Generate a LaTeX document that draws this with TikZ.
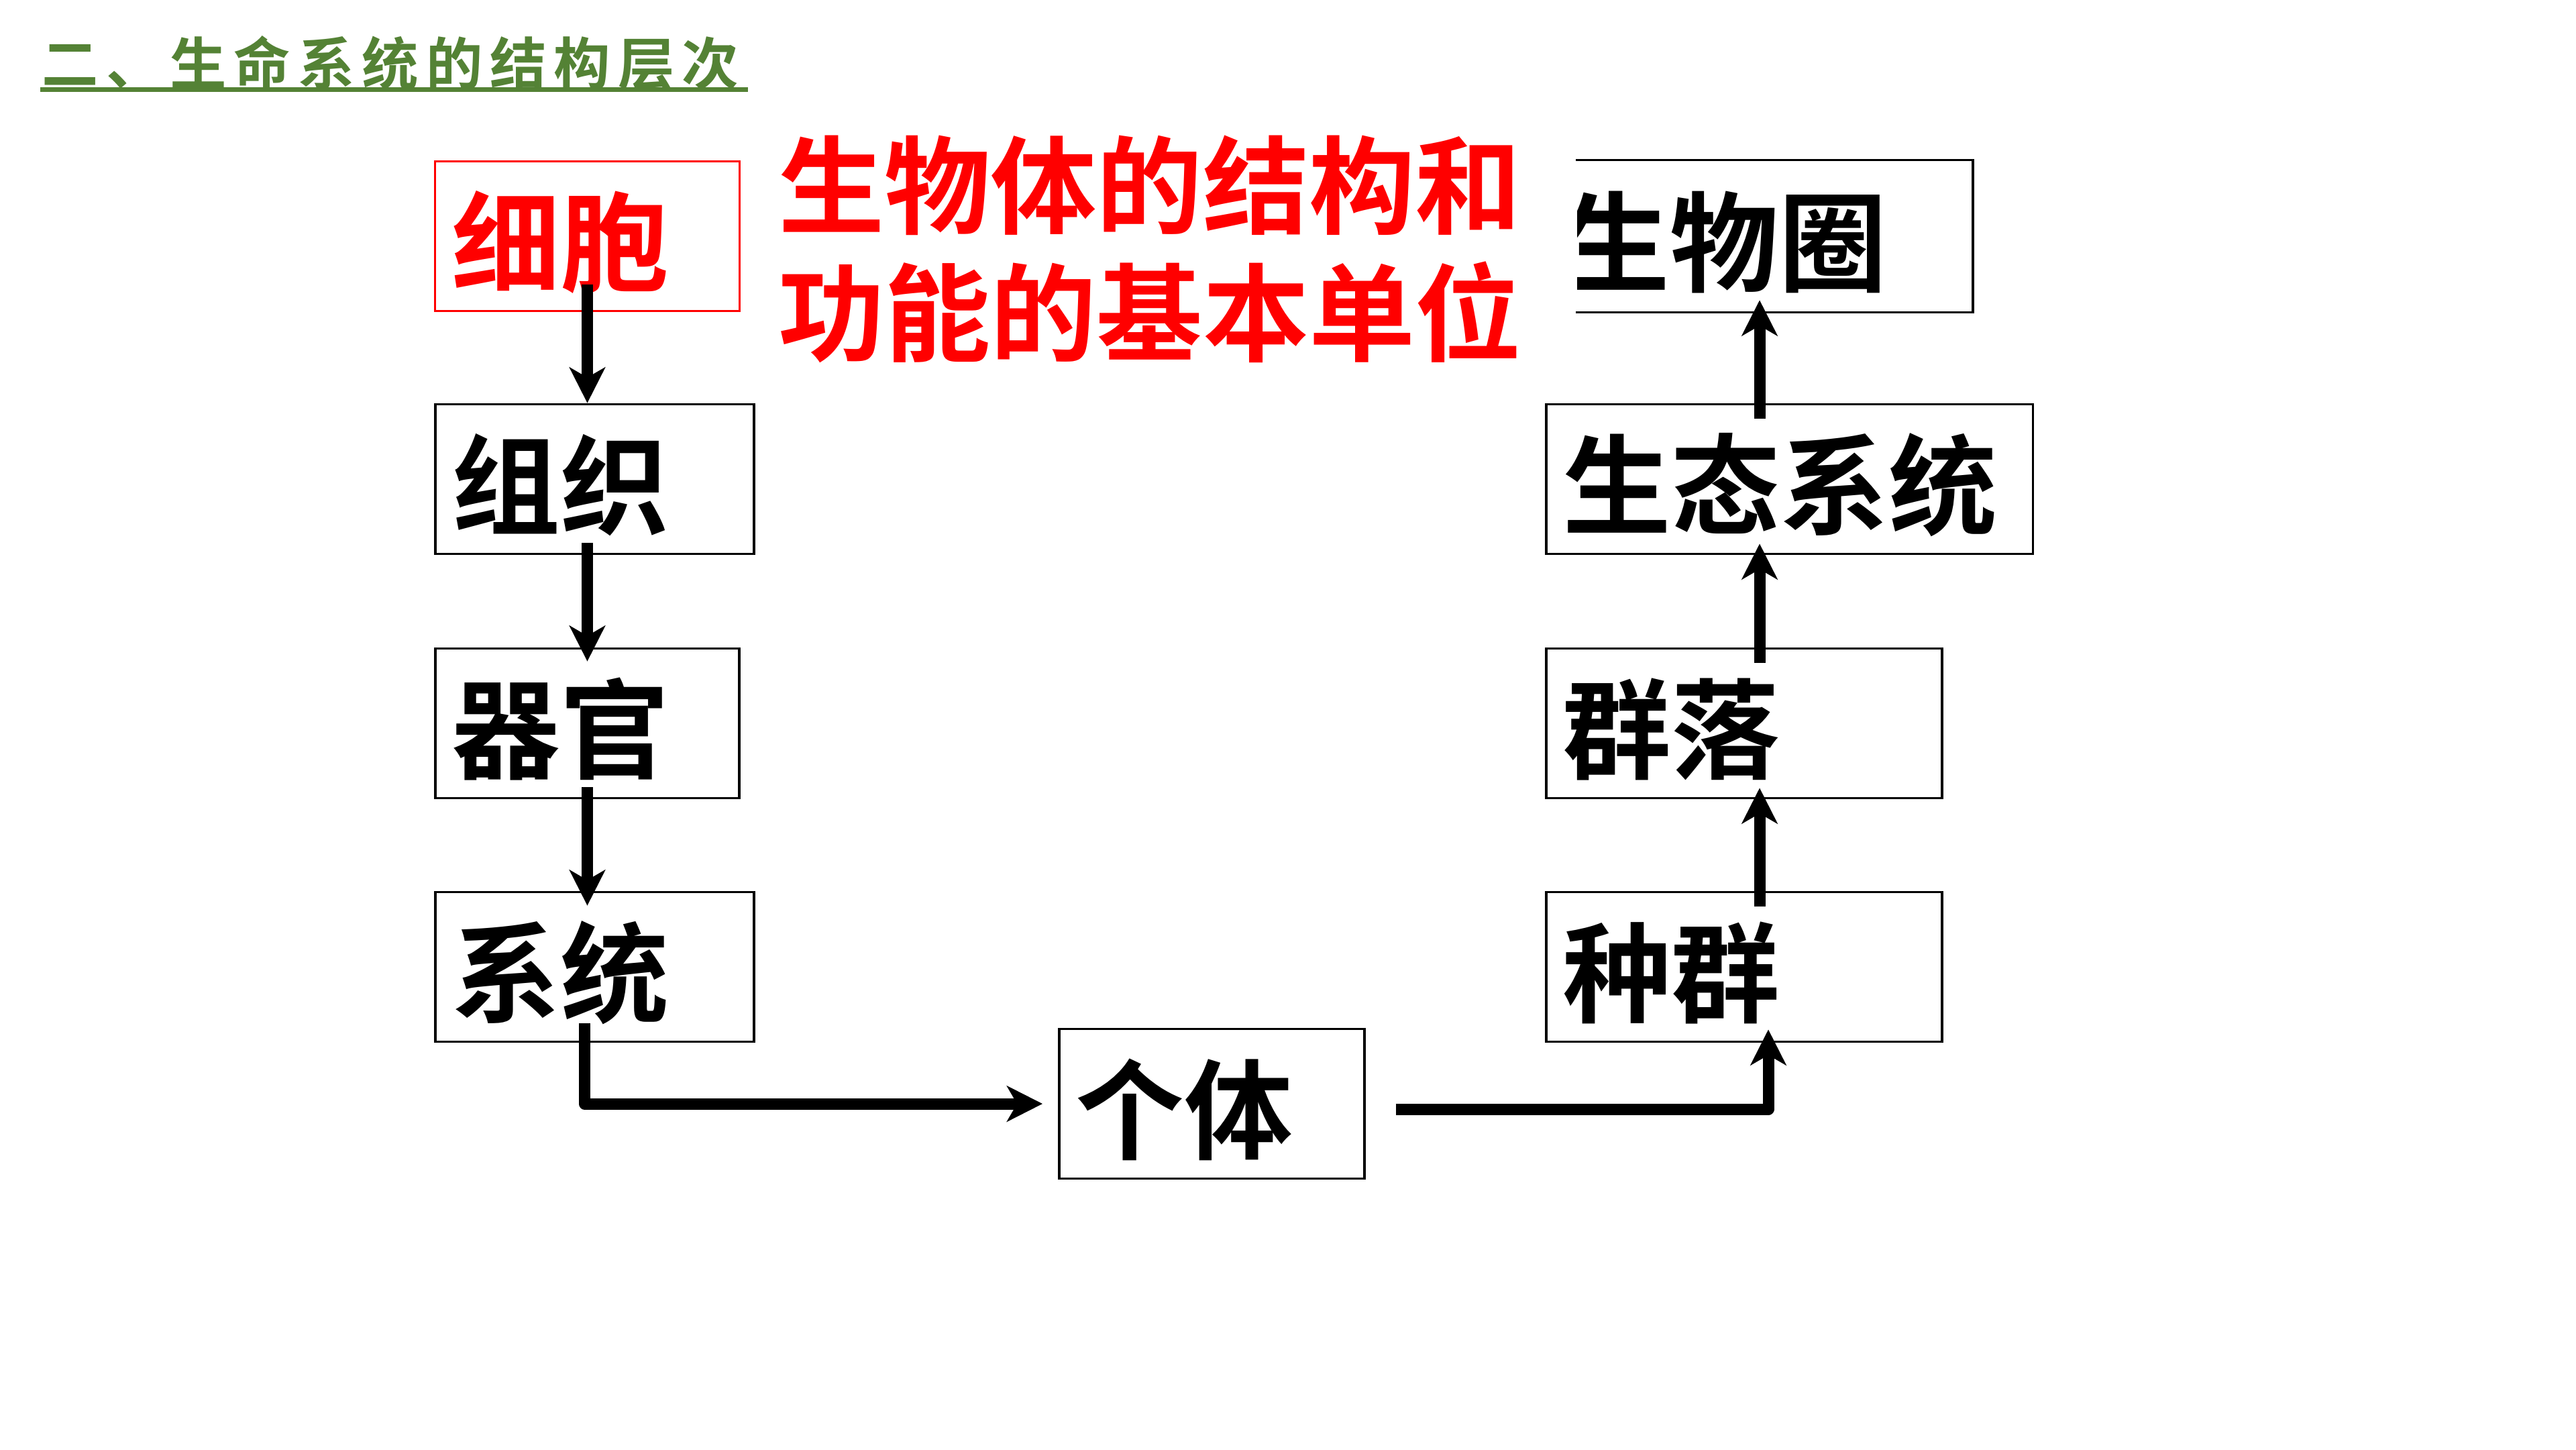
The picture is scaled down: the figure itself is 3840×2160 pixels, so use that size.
\documentclass[tikz,border=0pt]{standalone}
\usepackage{fontspec}
\newfontfamily\cjkb{Noto Sans CJK SC Bold}
\usetikzlibrary{arrows.meta,calc}
\definecolor{titlegreen}{HTML}{548235}
\begin{document}
\begin{tikzpicture}[x=0.01cm,y=-0.01cm,
  box/.style={draw=black,line width=1pt,font=\cjkb\fontsize{46pt}{55pt}\selectfont,
    inner xsep=0.25cm,inner ysep=0pt,align=left,minimum height=2.23cm,
    text height=1.5cm,text depth=0.1cm},
  arr/.style={line width=0.17cm,line join=round,
    -{Stealth[length=0.53cm,width=0.53cm,inset=0.15cm]}}]
\useasboundingbox[fill=white] (0,0) rectangle (3840,2160);

% title
\node[anchor=base west,inner sep=0pt,text=titlegreen,
  font=\cjkb\fontsize{24pt}{24pt}\selectfont] (title) at (62,126)
  {二\kern0.11cm、\kern0.11cm生\kern0.11cm命\kern0.11cm系\kern0.11cm统\kern0.11cm的\kern0.11cm结\kern0.11cm构\kern0.11cm层\kern0.11cm次};
\draw[titlegreen,line width=0.07cm] (60,133) -- (1115,133);

% left column
\node[box,draw=red,text=red,line width=0.8pt,minimum width=4.53cm,text width=4.03cm] (cell) at (875.5,352) {细胞};
\node[box,minimum width=4.75cm,text width=4.25cm] (tissue) at (886.5,714) {组织};
\node[box,minimum width=4.53cm,text width=4.03cm] (organ) at (875.5,1078) {器官};
\node[box,minimum width=4.75cm,text width=4.25cm] (system) at (886.5,1441) {系统};

% bottom
\node[box,minimum width=4.55cm,text width=4.05cm] (indiv) at (1806.5,1645) {个体};

% right column
\node[box,minimum width=5.9cm,text width=5.4cm] (popu) at (2600,1441) {种群};
\node[box,minimum width=5.9cm,text width=5.4cm] (comm) at (2600,1078) {群落};
\node[box,minimum width=7.25cm,text width=6.75cm] (eco) at (2667.5,714) {生态系统};

\begin{scope}
\clip (2351,0) rectangle (3840,2160);
\node[box,draw=none,minimum width=5.88cm,text width=5.88cm,inner xsep=0pt] (bio) at (2645,352) {\hspace*{-0.23cm}生物圈};
\end{scope}
\draw[line width=1pt] (bio.north west) -- (bio.north east) -- (bio.south east) -- (bio.south west);

% red caption
\node[inner sep=0pt,align=left,text=red,font=\cjkb\fontsize{45pt}{54pt}\selectfont] (unit) at (1714,371)
  {生物体的结构和\\功能的基本单位};

% arrows
\draw[arr] ([yshift=0.41cm]cell.south) -- (cell.south |- tissue.north);
\draw[arr] ($(organ.north |- tissue.south)+(0,-18)$) -- ($(organ.north)+(0,21)$);
\draw[arr] ($(organ.south)+(0,-18)$) -- ($(organ.south |- system.north)+(0,22)$);
\draw[arr] ($(organ.south |- system.south)+(-4,-29)$) |- ($(indiv.west)+(-23,0)$);
\draw[arr] ($(indiv.east)+(45,8)$) -| ($(popu.south)+(36,-20)$);
\coordinate (rx) at ($(popu.north)+(23,0)$);
\draw[arr] ($(rx)+(0,23)$) -- ($(rx |- comm.south)+(0,-17)$);
\draw[arr] ($(rx |- comm.north)+(0,23)$) -- ($(rx |- eco.south)+(0,-17)$);
\draw[arr] ($(rx |- eco.north)+(0,23)$) -- ($(rx |- bio.south)+(0,-18)$);
\end{tikzpicture}
\end{document}
